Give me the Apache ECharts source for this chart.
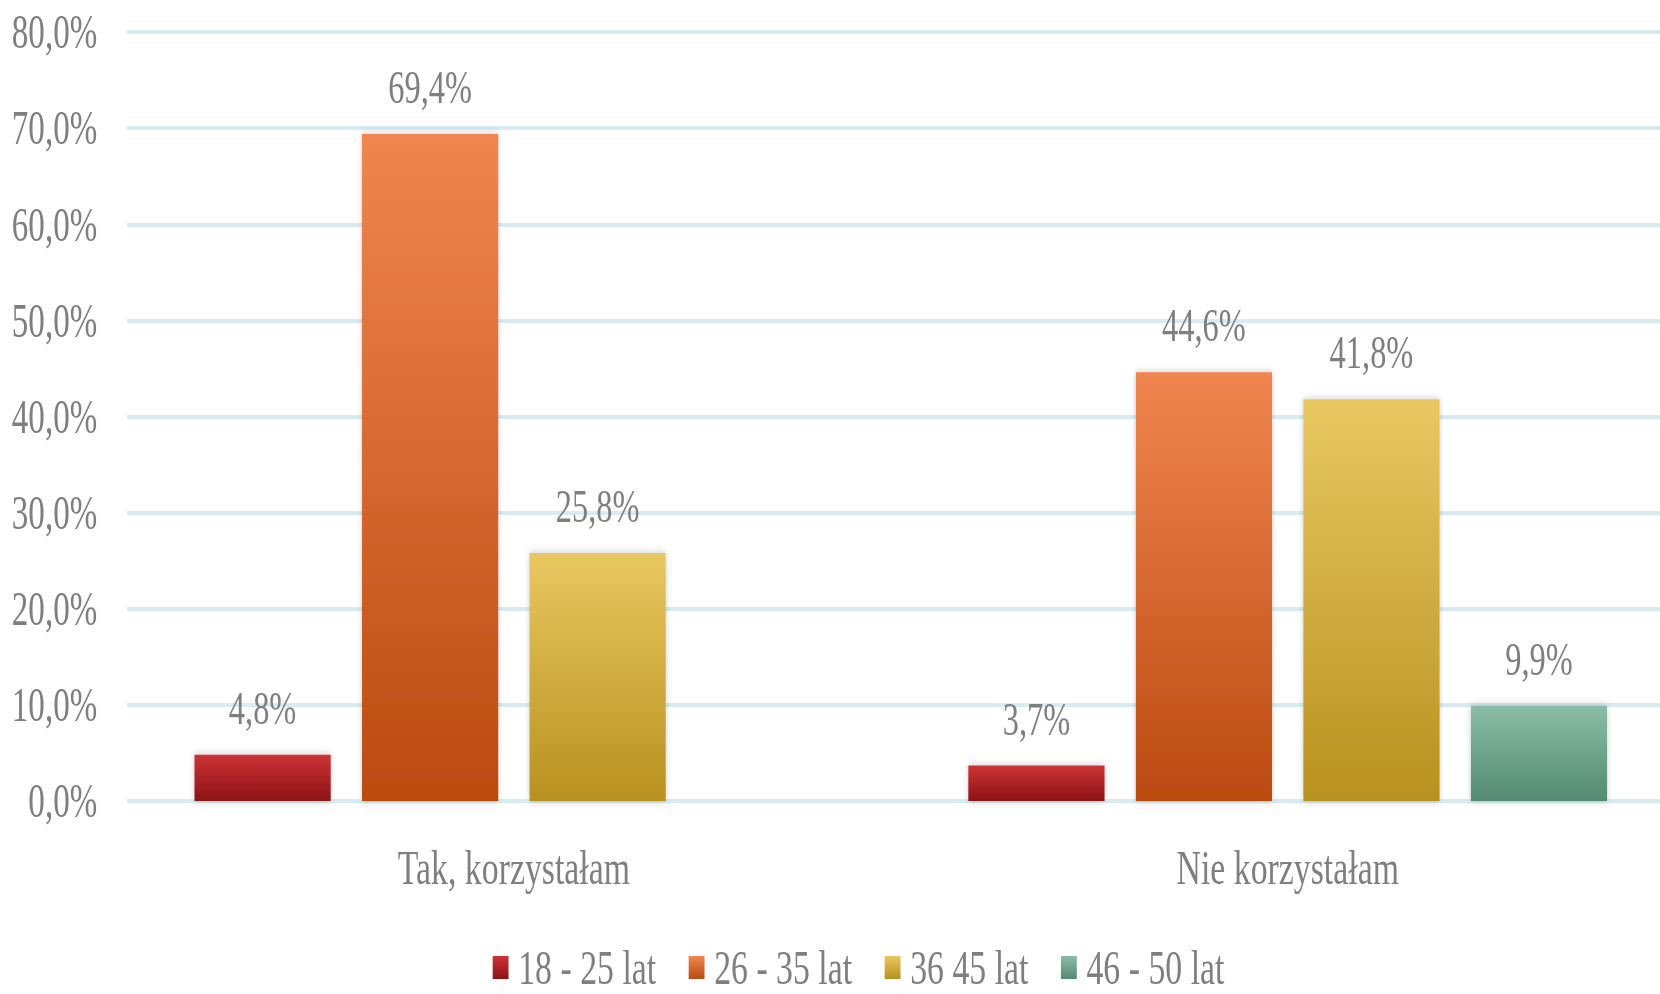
<!DOCTYPE html>
<html>
<head>
<meta charset="utf-8">
<script src="https://cdn.jsdelivr.net/npm/echarts@6/dist/echarts.min.js"></script>
<style>
  html, body { margin: 0; padding: 0; background: #fff; overflow: hidden; }
  /* the original text is a strongly condensed serif, so the chart is drawn wide and squeezed */
  #chart { width: 2406px; height: 994px; transform: scaleX(0.69); transform-origin: 0 0; }
</style>
</head>
<body>
<div id="chart"></div>
<script>
var categories = ['Tak, korzystałam', 'Nie korzystałam'];
var seriesNames = ['18 - 25 lat', '26 - 35 lat', '36 45 lat', '46 - 50 lat'];
var age18_25 = [4.8, 3.7];
var age26_35 = [69.4, 44.6];
var age36_45 = [25.8, 41.8];
var age46_50 = ['-', 9.9];
var yTicks = { min: 0, max: 80, interval: 10 };

var colors = [
    ['#cd3437', '#8c1214'],
    ['#f08650', '#bb4a10'],
    ['#e9c862', '#b8911f'],
    ['#8abda7', '#538a71']
];

var fmt = function (v) {
    return v.toFixed(1).replace('.', ',') + '%';
};

var myChart = echarts.init(document.getElementById('chart'), null, { renderer: 'svg' });

var values = [age18_25, age26_35, age36_45, age46_50];
var series = [];
for (var i = 0; i < values.length; i++) {
    series.push({
        name: seriesNames[i],
        type: 'bar',
        barWidth: '17.6%',
        barGap: '23%',
        itemStyle: {
            color: new echarts.graphic.LinearGradient(0, 0, 0, 1, [
                { offset: 0, color: colors[i][0] },
                { offset: 1, color: colors[i][1] }
            ]),
            shadowBlur: 8,
            shadowColor: 'rgba(0,0,0,0.22)'
        },
        label: {
            show: true,
            position: 'top',
            distance: 23,
            color: '#7f7f7f',
            fontFamily: 'Liberation Serif',
            fontSize: 47,
            formatter: function (p) { return fmt(p.value); }
        },
        data: values[i]
    });
}

myChart.setOption({
    backgroundColor: '#ffffff',
    animation: false,
    grid: {
        left: 184,
        width: 2243,
        top: 32,
        bottom: 193,
        outerBoundsMode: 'none'
    },
    legend: {
        data: seriesNames,
        left: 714,
        top: 943,
        padding: 0,
        icon: 'rect',
        itemWidth: 23,
        itemHeight: 23,
        itemGap: 47,
        textStyle: {
            color: '#7f7f7f',
            fontFamily: 'Liberation Serif',
            fontSize: 49,
            lineHeight: 40,
            padding: [0, 0, 0, 9]
        }
    },
    xAxis: {
        type: 'category',
        data: categories,
        axisLine: { show: false },
        axisTick: { show: false },
        axisLabel: {
            margin: 42,
            color: '#7f7f7f',
            fontFamily: 'Liberation Serif',
            fontSize: 49
        }
    },
    yAxis: {
        type: 'value',
        min: yTicks.min,
        max: yTicks.max,
        interval: yTicks.interval,
        axisLine: { show: false },
        axisTick: { show: false },
        splitLine: {
            lineStyle: { color: '#d6ecf0', width: 4 }
        },
        axisLabel: {
            margin: 43,
            color: '#7f7f7f',
            fontFamily: 'Liberation Serif',
            fontSize: 48,
            formatter: fmt
        }
    },
    series: series
});
</script>
</body>
</html>
